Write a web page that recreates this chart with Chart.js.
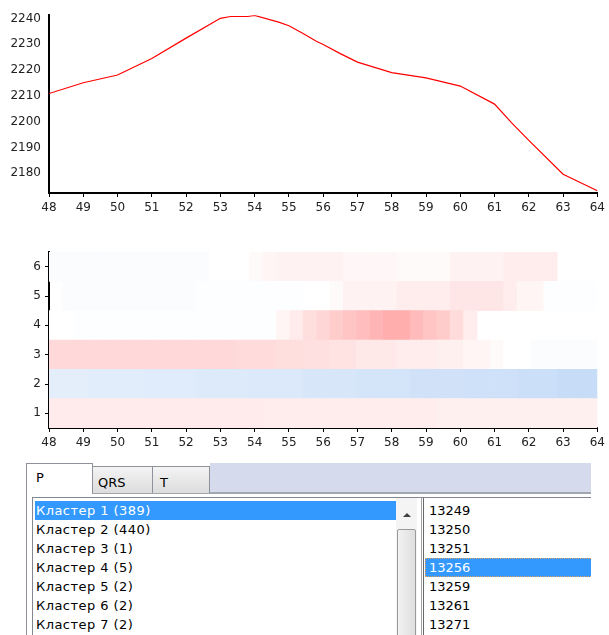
<!DOCTYPE html>
<html>
<head>
<meta charset="utf-8">
<script src="https://cdn.jsdelivr.net/npm/chart.js@4.4.0/dist/chart.umd.min.js"></script>
<style>
  body { margin: 0; background: #fff; font-family: "DejaVu Sans", sans-serif; }
  #wrap { position: relative; width: 609px; height: 635px; overflow: hidden; }
  canvas { position: absolute; left: 0; }
  #lineChart { top: 0; }
  #heatChart { top: 236px; }
  #panel { position: absolute; left: 0; top: 0; width: 591px; height: 635px; overflow: hidden; }
  .band { position: absolute; left: 210px; top: 463px; width: 381px; height: 30px; background: #d5dbed; }
  .pageline { position: absolute; left: 92px; top: 492px; width: 499px; height: 2px; background: #a3a7b0; }
  .pageleft { position: absolute; left: 26px; top: 463px; width: 1px; height: 172px; background: #8e929b; }
  .tab { position: absolute; box-sizing: border-box; border: 1px solid #8e929b; border-bottom: none;
         font-size: 13px; color: #000; padding-left: 7px; }
  .tab.on { left: 26px; top: 463px; width: 67px; height: 31px; background: #fff; padding-top: 6px; padding-left: 9px; }
  .tab.off { top: 466px; height: 27px; background: linear-gradient(#f4f4f4, #dcdcdc); padding-top: 8px; padding-left: 5px; }
  .list { position: absolute; top: 497px; box-sizing: border-box; border-top: 1px solid #828790; background: #fff; }
  #list1 { left: 32px; width: 390px; height: 140px; border-left: 1px solid #828790; }
  #list2 { left: 421px; width: 180px; height: 140px; border-left: 1px solid #a0a0a0; }
  #list2:before { content: ""; position: absolute; left: 1px; top: 0; width: 1px; height: 140px; background: #696969; }
  .item { position: absolute; height: 19px; line-height: 19px; font-size: 13px; color: #000; white-space: nowrap; }
  #list1 .item { left: 2px; width: 360px; padding-left: 1px; letter-spacing: 0.45px; }
  #list2 .item { left: 3px; width: 170px; padding-left: 4px; box-sizing: border-box; }
  .item.sel { background: #3399ff; color: #fff; }
  #list2 .item.sel { outline: 1px dotted #e0a060; outline-offset: -1px; }
  .scroll { position: absolute; left: 396px; top: 498px; width: 21px; height: 140px; background: #f4f4f4; }
  .arrow { position: absolute; left: 7px; top: 15px; width: 0; height: 0;
           border-left: 4px solid transparent; border-right: 4px solid transparent; border-bottom: 4px solid #404040; }
  .thumb { position: absolute; left: 1px; top: 31px; width: 19px; height: 120px; box-sizing: border-box;
           border: 1px solid #9a9a9a; border-radius: 2px; background: linear-gradient(90deg, #f2f2f2, #dedede); }
</style>
</head>
<body>
<div id="wrap">
  <canvas id="lineChart" width="609" height="222"></canvas>
  <canvas id="heatChart" width="609" height="220"></canvas>
  <div id="panel">
    <div class="band"></div>
    <div class="pageline"></div>
    <div class="pageleft"></div>
    <div class="tab off" style="left:92px;width:61px;">QRS</div>
    <div class="tab off" style="left:152px;width:58px;padding-left:7px;">T</div>
    <div class="tab on">P</div>
    <div class="list" id="list1"></div>
    <div class="scroll"><div class="arrow"></div><div class="thumb"></div></div>
    <div class="list" id="list2"></div>
  </div>
</div>
<script>
// top curve
const lineX = [48, 49, 50, 51, 52, 53, 53.3, 53.8, 54, 54.7, 55, 55.4, 55.8, 56, 56.5, 57, 58, 59, 60, 61, 61.5, 62, 63, 64];
const lineY = [2210.9, 2215.1, 2218.1, 2224.5, 2232.4, 2240.1, 2240.8, 2240.8, 2241.2, 2238.6, 2237.2, 2234.3, 2231.2, 2229.9,
               2226.4, 2223.1, 2219.0, 2217.0, 2213.8, 2206.8, 2199.5, 2192.7, 2179.6, 2173.2];
const xTicks = [48, 49, 50, 51, 52, 53, 54, 55, 56, 57, 58, 59, 60, 61, 62, 63, 64];
const yTicks = [2180, 2190, 2200, 2210, 2220, 2230, 2240];

// heat map: column centres and one row of values per cluster line
const heatX = [48.195, 48.585, 48.976, 49.366, 49.756, 50.146, 50.537, 50.927, 51.317, 51.707, 52.098,
               52.488, 52.878, 53.268, 53.659, 54.049, 54.439, 54.829, 55.220, 55.610, 56.000, 56.390,
               56.780, 57.171, 57.561, 57.951, 58.341, 58.732, 59.122, 59.512, 59.902, 60.293, 60.683,
               61.073, 61.463, 61.854, 62.244, 62.634, 63.024, 63.415, 63.805];
const rowLabels = [1, 2, 3, 4, 5, 6];
const row1 = [0.08, 0.08, 0.08, 0.08, 0.08, 0.08, 0.08, 0.08, 0.08, 0.08, 0.08, 0.08, 0.08, 0.08, 0.08, 0.08,
              0.07, 0.07, 0.07, 0.07, 0.07, 0.07, 0.07, 0.07, 0.07, 0.07, 0.07, 0.07, 0.07,
              0.06, 0.06, 0.06, 0.06, 0.06, 0.06, 0.06, 0.06, 0.06, 0.06, 0.06, 0.06];
const row2 = [-0.13, -0.13, -0.13, -0.14, -0.14, -0.14, -0.14, -0.15, -0.15, -0.15, -0.15, -0.16, -0.16, -0.16,
              -0.16, -0.17, -0.17, -0.17, -0.17, -0.19, -0.19, -0.19, -0.19, -0.2, -0.2, -0.2, -0.2, -0.22,
              -0.22, -0.22, -0.22, -0.23, -0.23, -0.23, -0.23, -0.25, -0.25, -0.25, -0.27, -0.27, -0.27];
const row3 = [0.15, 0.15, 0.15, 0.15, 0.15, 0.15, 0.15, 0.15, 0.15, 0.15, 0.15, 0.15, 0.15, 0.15,
              0.14, 0.14, 0.14, 0.13, 0.13, 0.12, 0.12, 0.11, 0.11, 0.09, 0.09, 0.09, 0.07, 0.07, 0.07,
              0.06, 0.06, 0.04, 0.04, 0.02, 0, 0, -0.02, -0.02, -0.02, -0.02, -0.02];
const row4 = [0, 0, -0.01, -0.01, -0.01, -0.01, -0.01, -0.01, -0.01, -0.01, -0.01, -0.01, -0.01, -0.01, -0.01,
              -0.01, -0.01, 0.04, 0.08, 0.13, 0.16, 0.2, 0.23, 0.26, 0.29, 0.32, 0.32, 0.27, 0.23, 0.2, 0.14,
              0.07, null, null, null, null, null, null, null, null, null];
const row5 = [null, -0.02, -0.02, -0.02, -0.02, -0.02, -0.02, -0.02, -0.02, -0.02, -0.02, -0.01, -0.01, -0.01,
              -0.01, -0.01, -0.01, -0.01, -0.01, 0, 0, 0.02, 0.05, 0.05, 0.05, 0.05, 0.07, 0.07, 0.07, 0.07,
              0.1, 0.1, 0.1, 0.1, 0.07, 0.04, 0.04, -0.01, -0.01, -0.01, -0.01];
const row6 = [-0.02, -0.02, -0.02, -0.02, -0.02, -0.02, -0.02, -0.02, -0.02, -0.02, -0.02, -0.02, 0, 0, 0,
              0.02, 0.04, 0.05, 0.05, 0.05, 0.05, 0.05, 0.03, 0.03, 0.03, 0.03, 0.02, 0.02, 0.02, 0.02,
              0.05, 0.05, 0.05, 0.05, 0.07, 0.07, 0.07, 0.07, null, null, null];
const heatRows = [row1, row2, row3, row4, row5, row6];

// list contents under the charts
const clusterNames = ['Кластер 1 (389)', 'Кластер 2 (440)', 'Кластер 3 (1)', 'Кластер 4 (5)',
                      'Кластер 5 (2)', 'Кластер 6 (2)', 'Кластер 7 (2)'];
const complexIds = ['13249', '13250', '13251', '13256', '13259', '13261', '13271'];

Chart.defaults.font.family = 'DejaVu Sans';
Chart.defaults.font.size = 12;
Chart.defaults.color = '#222';

function heatColor(v) {
  if (v >= 0) {
    const c = Math.round(255 - v * 255);
    return 'rgb(255,' + c + ',' + c + ')';
  }
  const t = -v;
  return 'rgb(' + Math.round(255 - t * 210) + ',' + Math.round(255 - t * 130) + ',' + Math.round(255 - t * 30) + ')';
}

const axisGrid = { drawOnChartArea: false, drawTicks: true, tickLength: 4, color: '#000', lineWidth: 1 };
const axisBorder = { display: true, color: '#000', width: 2 };
const plainTick = v => String(v);

new Chart(document.getElementById('lineChart'), {
  type: 'line',
  data: {
    datasets: [{
      data: lineX.map((x, i) => ({ x: x, y: lineY[i] })),
      borderColor: '#ff0000',
      borderWidth: 1.2,
      pointRadius: 0,
      tension: 0
    }]
  },
  options: {
    responsive: false,
    animation: false,
    devicePixelRatio: 1,
    events: [],
    layout: { padding: { top: 14, right: 9, left: 0, bottom: 0 } },
    plugins: { legend: { display: false }, tooltip: { enabled: false } },
    scales: {
      x: {
        type: 'linear', min: 48, max: 64,
        afterBuildTicks: s => { s.ticks = xTicks.map(v => ({ value: v })); },
        afterFit: s => { s.height = 29; },
        grid: axisGrid, border: axisBorder,
        ticks: { padding: 4, maxRotation: 0, callback: plainTick }
      },
      y: {
        min: 2172.3, max: 2241.3,
        afterBuildTicks: s => { s.ticks = yTicks.map(v => ({ value: v })); },
        afterFit: s => { s.width = 49; },
        grid: { drawOnChartArea: false, drawTicks: false }, border: axisBorder,
        ticks: { padding: 8, callback: plainTick }
      }
    }
  }
});

new Chart(document.getElementById('heatChart'), {
  type: 'bar',
  data: {
    datasets: heatRows.map((vals, r) => ({
      data: heatX.map((x, k) => ({ x: x, y: vals[k] === null ? null : [rowLabels[r] - 0.5, rowLabels[r] + 0.5] })),
      backgroundColor: vals.map(v => v === null ? 'rgba(0,0,0,0)' : heatColor(v)),
      borderWidth: 0,
      barPercentage: 1,
      categoryPercentage: 1,
      grouped: false
    }))
  },
  options: {
    responsive: false,
    animation: false,
    devicePixelRatio: 1,
    events: [],
    layout: { padding: { top: 16, right: 9, left: 0, bottom: 0 } },
    plugins: { legend: { display: false }, tooltip: { enabled: false } },
    scales: {
      x: {
        type: 'linear', min: 48, max: 64, offset: false,
        afterBuildTicks: s => { s.ticks = xTicks.map(v => ({ value: v })); },
        afterFit: s => { s.height = 28; },
        grid: Object.assign({ offset: false }, axisGrid), border: axisBorder,
        ticks: { padding: 4, maxRotation: 0, callback: plainTick }
      },
      y: {
        type: 'linear', min: 0.5, max: 6.5,
        afterBuildTicks: s => { s.ticks = rowLabels.map(v => ({ value: v })); },
        afterFit: s => { s.width = 49; },
        grid: axisGrid, border: axisBorder,
        ticks: { padding: 4, callback: plainTick }
      }
    }
  }
});

function fillList(id, items, selected) {
  const box = document.getElementById(id);
  items.forEach((txt, i) => {
    const d = document.createElement('div');
    d.className = 'item' + (i === selected ? ' sel' : '');
    d.style.top = (3 + i * 19) + 'px';
    d.textContent = txt;
    box.appendChild(d);
  });
}
fillList('list1', clusterNames, 0);
fillList('list2', complexIds, 3);
</script>
</body>
</html>
